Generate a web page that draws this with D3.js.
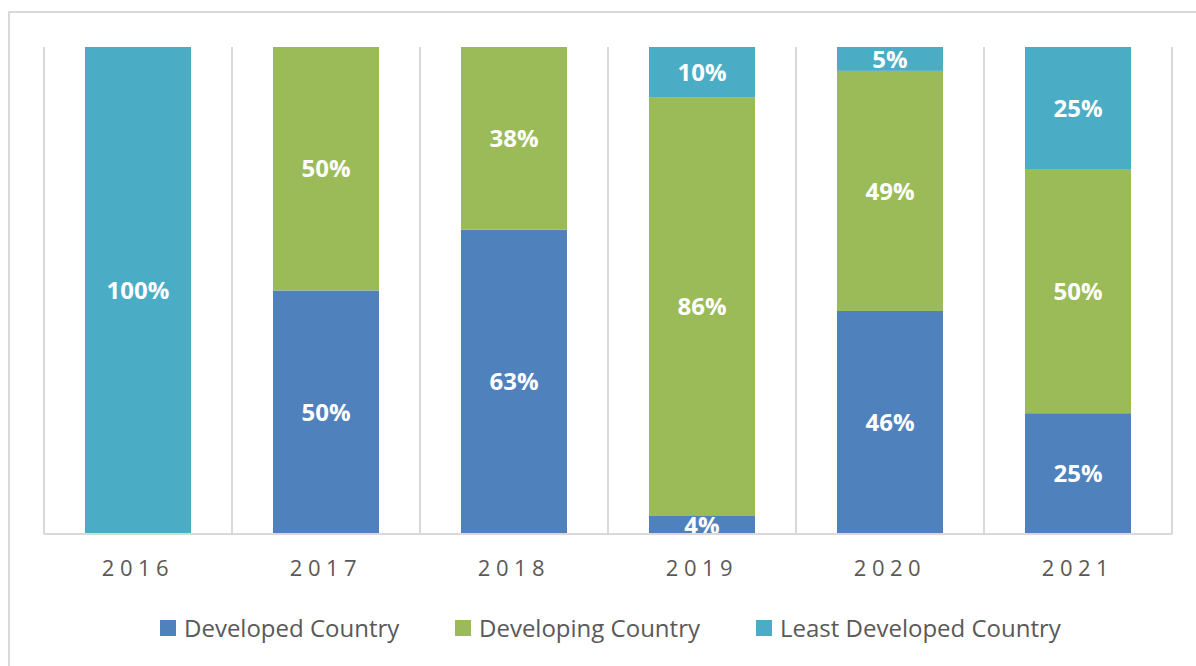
<!DOCTYPE html>
<html>
<head>
<meta charset="utf-8">
<script src="https://cdn.jsdelivr.net/npm/d3@7"></script>
<style>
  body { margin: 0; background: #fff; }
  svg { display: block; font-family: "Open Sans", sans-serif; }
</style>
</head>
<body>
<svg id="chart" width="1196" height="666"></svg>
<script>
// data (share of each year, in %)
var years = ["2016", "2017", "2018", "2019", "2020", "2021"];
var developed = [0, 50, 62.5, 3.7, 45.8, 24.8];
var developing = [0, 50, 37.5, 86.0, 49.3, 50.0];
var leastDeveloped = [100, 0, 0, 10.3, 4.9, 25.2];
var seriesNames = ["Developed Country", "Developing Country", "Least Developed Country"];
var colors = ["#4f81bd", "#9bbb59", "#4bacc6"];

var svg = d3.select("#chart");
var plot = { left: 44, right: 1172, top: 47, bottom: 534 };

// outer frame of the chart
svg.append("rect")
    .attr("x", 9)
    .attr("y", 12)
    .attr("width", 1200)
    .attr("height", 670)
    .attr("fill", "none")
    .attr("stroke", "#d9d9d9")
    .attr("stroke-width", 2);

var rows = years.map((y, i) => ({
    year: y,
    "Developed Country": developed[i],
    "Developing Country": developing[i],
    "Least Developed Country": leastDeveloped[i]
}));

var stacked = d3.stack().keys(seriesNames)(rows);

var x = d3.scaleBand()
    .domain(years)
    .range([plot.left, plot.right])
    .padding(0);

var y = d3.scaleLinear()
    .domain([0, 100])
    .range([plot.bottom, plot.top]);

var barWidth = x.bandwidth() * 0.564;

// vertical gridlines between categories
var bounds = years.map(yr => x(yr)).concat([plot.right]);
svg.selectAll(".grid")
    .data(bounds)
    .enter()
    .append("line")
    .classed("grid", true)
    .attr("x1", d => d)
    .attr("x2", d => d)
    .attr("y1", plot.top)
    .attr("y2", plot.bottom)
    .attr("stroke", "#d9d9d9")
    .attr("stroke-width", 2);

var layers = svg.selectAll(".layer")
    .data(stacked)
    .enter()
    .append("g")
    .classed("layer", true)
    .attr("fill", (d, i) => colors[i]);

layers.selectAll("rect")
    .data(d => d.filter(p => p[1] - p[0] > 0))
    .enter()
    .append("rect")
    .attr("x", p => x(p.data.year) + (x.bandwidth() - barWidth) / 2)
    .attr("width", barWidth)
    .attr("y", p => y(p[1]))
    .attr("height", p => y(p[0]) - y(p[1]));

// baseline
svg.append("line")
    .attr("x1", plot.left)
    .attr("x2", plot.right)
    .attr("y1", plot.bottom)
    .attr("y2", plot.bottom)
    .attr("stroke", "#d9d9d9")
    .attr("stroke-width", 2);

// value labels
layers.selectAll("text")
    .data(d => d.filter(p => p[1] - p[0] > 0))
    .enter()
    .append("text")
    .attr("x", p => x(p.data.year) + x.bandwidth() / 2)
    .attr("y", p => (y(p[0]) + y(p[1])) / 2)
    .attr("dy", "0.36em")
    .attr("text-anchor", "middle")
    .attr("fill", "#fff")
    .attr("font-size", 24)
    .attr("font-weight", "bold")
    .text(p => Math.round(p[1] - p[0]) + "%");

// category axis
var xAxis = svg.append("g")
    .attr("transform", "translate(0," + plot.bottom + ")")
    .call(d3.axisBottom(x).tickSize(0).tickPadding(26));
xAxis.select(".domain").remove();
xAxis.selectAll("text")
    .attr("font-family", "Open Sans, sans-serif")
    .attr("font-size", 22)
    .attr("letter-spacing", 5.5)
    .attr("fill", "#595959");

// legend
var legendX = [160, 455, 756];
var legend = svg.selectAll(".legend")
    .data(seriesNames)
    .enter()
    .append("g")
    .classed("legend", true)
    .attr("transform", (d, i) => "translate(" + legendX[i] + ",628)");

legend.append("rect")
    .attr("x", 0)
    .attr("y", -8)
    .attr("width", 16)
    .attr("height", 16)
    .attr("fill", (d, i) => colors[i]);

legend.append("text")
    .attr("x", 24)
    .attr("dy", "0.36em")
    .attr("font-size", 24)
    .attr("fill", "#595959")
    .text(d => d);
</script>
</body>
</html>
